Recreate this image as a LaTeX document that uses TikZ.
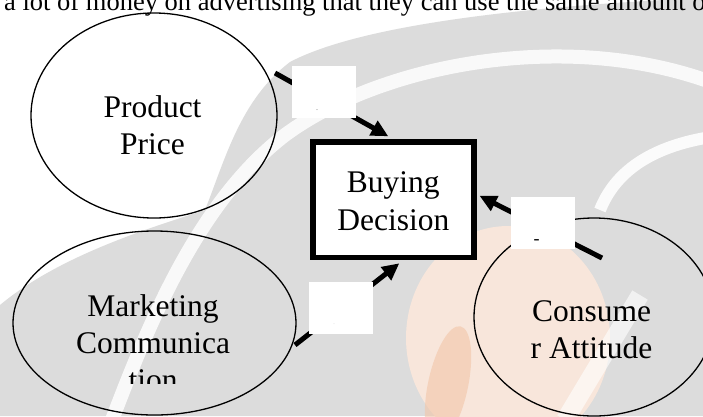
\documentclass[tikz,border=0pt]{standalone}
\usepackage{fontspec}
\setmainfont{Liberation Serif}
\usetikzlibrary{shapes.geometric,arrows.meta}
\definecolor{wmgray}{HTML}{DCDCDC}
\definecolor{wmpeach}{HTML}{F8E6DB}
\definecolor{wmorange}{HTML}{F2C6A8}
\begin{document}
\begin{tikzpicture}[x=1pt,y=-1pt,
  oval/.style={draw=black, line width=1.3pt, ellipse, inner sep=0pt},
  caption/.style={font=\fontsize{31.5}{37}\selectfont, inner sep=0pt, anchor=base},
  decisionbox/.style={draw=black, line width=5.7pt, fill=white,
    minimum width=160.8pt, minimum height=115.3pt, inner sep=0pt},
  link/.style={line width=5pt, -{Triangle[length=17pt,width=16pt]}},
  labelbox/.style={fill=white, minimum width=64pt, minimum height=52pt, inner sep=0pt},
  tinymark/.style={inner sep=0pt, anchor=base}
]
\useasboundingbox (0,0) rectangle (703,416);
\clip (0,0) rectangle (703,416);
\fill[white] (0,0) rectangle (703,416);

% faded logo behind the diagram
\fill[wmgray] (663,0) .. controls (520,8) and (360,25) .. (290,62)
  .. controls (240,100) and (225,160) .. (205,210)
  .. controls (150,228) and (60,255) .. (0,305) -- (0,416) -- (703,416) -- (703,0) -- cycle;
\draw[white, line width=14pt, opacity=0.85] (112,420) .. controls (150,320) and (200,200) .. (285,135)
  .. controls (380,65) and (560,30) .. (705,80);
\draw[white, line width=12pt, opacity=0.9] (600,210) .. controls (615,172) and (650,148) .. (705,138);
\fill[wmpeach] (508,338) ellipse [x radius=102, y radius=112];
\fill[wmorange, opacity=0.6, rotate around={-12:(448,385)}] (448,385) ellipse [x radius=20, y radius=60];
\draw[white, line width=18pt, opacity=0.6] (565,420) -- (640,295);

% top line of running text
\node[font=\fontsize{26.5}{30}\selectfont, inner sep=0pt, anchor=base west] (runtext) at (4,10)
  {a lot of money on advertising that they can use the same amount o};

% factor ellipses
\node[oval, minimum width=246pt, minimum height=205pt] (price) at (154,115.5) {};
\node[oval, minimum width=283pt, minimum height=184pt] (comm) at (154.5,323) {};
\node[oval, minimum width=240pt, minimum height=198pt] (attitude) at (594,317) {};

% connector start points
\coordinate (priceout) at (275,73);
\coordinate (commout) at (295,345);
\coordinate (attout) at (602,258);

% central decision box
\node[decisionbox] (decision) at (393.3,199.8) {};

% arrows into the decision box
\draw[link] (priceout) -- ([xshift=-5pt,yshift=3pt]decision.north);
\draw[link] (attout) -- ([xshift=3pt,yshift=4pt]decision.east);
\draw[link] (commout) -- ([xshift=6pt,yshift=-3pt]decision.south);
\node[decisionbox, fill=none] (decisionframe) at (decision.center) {};

% blank label boxes on the arrows
\node[labelbox] (lab1) at (324,92) {};
\node[labelbox] (lab2) at (543,222.5) {};
\node[labelbox] (lab3) at (341,307.5) {};
\node[tinymark, font=\fontsize{6}{6}\selectfont] (lab1mark) at (317,110) {.};
\node[tinymark, font=\fontsize{18}{18}\selectfont] (lab2mark) at (536.5,244) {-};
\node[tinymark, font=\fontsize{4}{4}\selectfont, text=gray] (lab3mark) at (334,324) {.};

% captions
\node[caption] (price1) at (152.5,117) {Product};
\node[caption] (price2) at (152.5,154) {Price};
\node[caption] (dec1) at (393.3,192) {Buying};
\node[caption] (dec2) at (393.3,230) {Decision};
\node[caption] (att1) at (591.5,321) {Consume};
\node[caption] (att2) at (591.5,358) {r Attitude};
\node[caption] (comm1) at (153,316) {Marketing};
\node[caption] (comm2) at (153,353) {Communica};
\begin{scope}
  \clip (0,0) rectangle (703,383);
  \node[caption] (comm3) at (153,390) {tion};
\end{scope}
\end{tikzpicture}
\end{document}
